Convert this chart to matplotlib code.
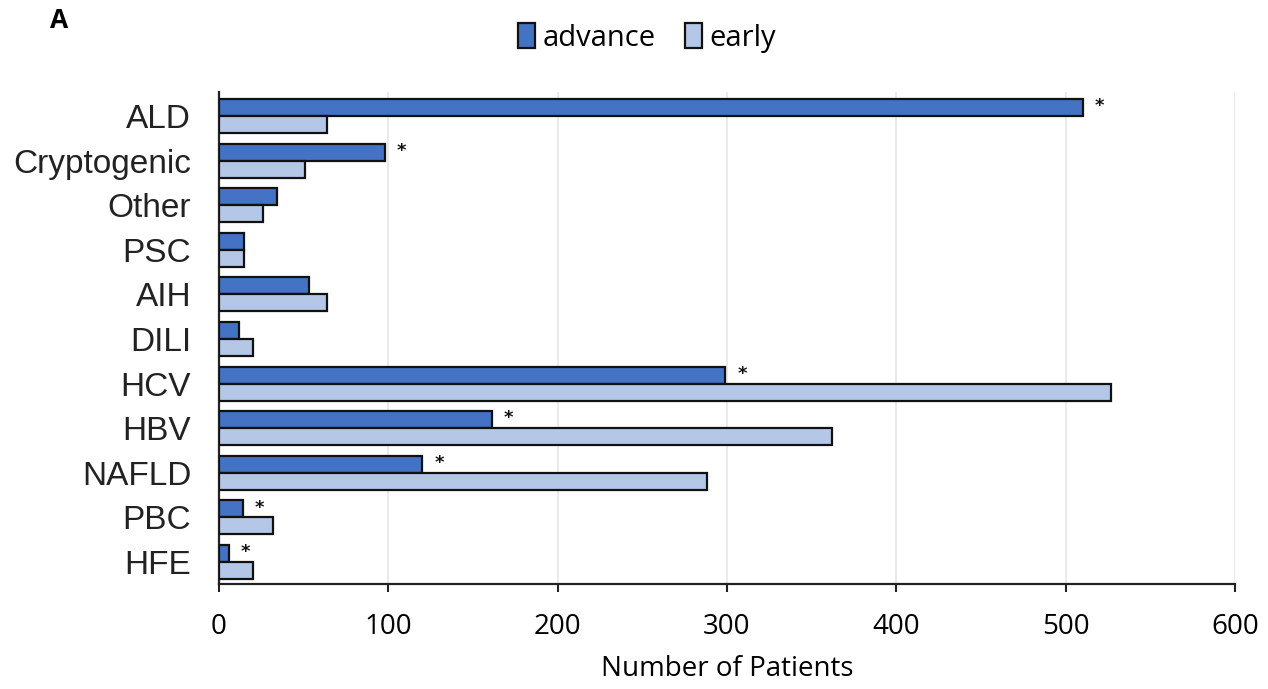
import matplotlib
matplotlib.use("Agg")
import matplotlib.pyplot as plt
import numpy as np

categories = ["ALD", "Cryptogenic", "Other", "PSC", "AIH", "DILI", "HCV", "HBV", "NAFLD", "PBC", "HFE"]
advance = [510, 98, 34, 15, 53, 12, 299, 161, 120, 14, 6]
early = [64, 51, 26, 15, 64, 20, 527, 362, 288, 32, 20]
significant = [True, True, False, False, False, False, True, True, True, True, True]
xticks = [0, 100, 200, 300, 400, 500, 600]

adv_color = "#4472C4"
early_color = "#B4C7E7"

fig = plt.figure(figsize=(12.68, 6.89), dpi=100)
ax = fig.add_axes([0.1727, 0.1524, 0.8013, 0.7141])

y = np.arange(len(categories))
h = 0.38
ax.barh(y - h / 2, advance, height=h, color=adv_color, edgecolor="#111111",
        linewidth=1.6, label="advance", zorder=3)
ax.barh(y + h / 2, early, height=h, color=early_color, edgecolor="#111111",
        linewidth=1.6, label="early", zorder=3)

for yi, v, s in zip(y, advance, significant):
    if s:
        ax.annotate("*", xy=(v, yi - h / 2), xytext=(12, 1), textcoords="offset points",
                    ha="center", va="center", fontsize=13, fontweight="bold",
                    color="#111111", family="DejaVu Sans")

ax.set_xlim(0, 600)
ax.set_ylim(len(categories) - 1 + 0.493, -0.538)
ax.set_xticks(xticks)
ax.set_xticklabels([str(t) for t in xticks], fontsize=20, family="Open Sans")
ax.set_yticks(y)
ax.set_yticklabels(categories, fontsize=24, family="Liberation Sans", color="#222222")
ax.tick_params(axis="y", length=0, pad=20)
ax.tick_params(axis="x", direction="out", length=6, width=1.5, pad=15, color="#222222")

ax.xaxis.grid(True, color="#e6e6e6", linewidth=1.2, zorder=0)
ax.set_axisbelow(True)
for side in ["top", "right"]:
    ax.spines[side].set_visible(False)
for side in ["left", "bottom"]:
    ax.spines[side].set_linewidth(1.6)
    ax.spines[side].set_color("#222222")

ax.set_xlabel("Number of Patients", fontsize=20, family="Open Sans", labelpad=10)

leg = fig.legend(loc="center", bbox_to_anchor=(647 / 1268, 1 - 38 / 689), ncol=2, frameon=False,
                 prop={"family": "Open Sans", "size": 21}, handlelength=0.6,
                 handleheight=0.9, handletextpad=0.25, columnspacing=1.0)
for p in leg.get_patches():
    p.set_linewidth(1.6)

fig.text(50 / 1268, 1 - 21 / 689, "A", fontsize=19, fontweight="bold", family="Open Sans",
         ha="left", va="center")

fig.savefig("out.png", dpi=100, facecolor="white")
